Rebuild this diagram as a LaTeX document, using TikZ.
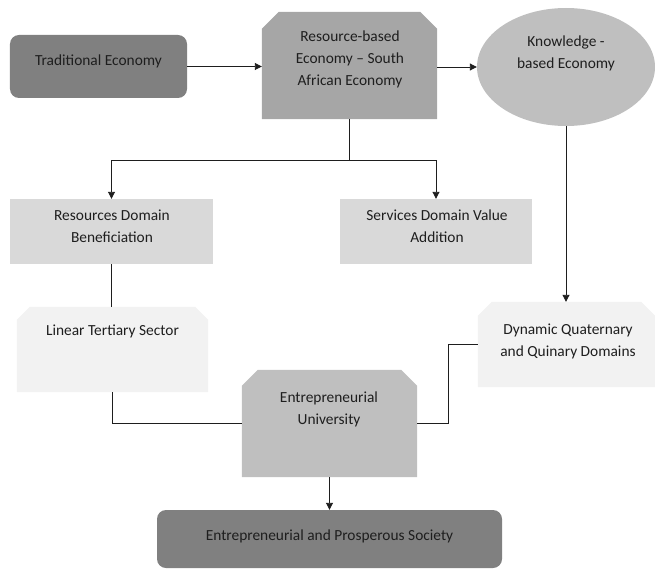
\documentclass[tikz,border=0pt]{standalone}
\usepackage{fontspec}
\setmainfont{Carlito}
\usetikzlibrary{arrows.meta,calc,shapes.geometric}
\definecolor{dkgray}{HTML}{808080}
\definecolor{mdgray}{HTML}{A6A6A6}
\definecolor{ltgray}{HTML}{BFBFBF}
\definecolor{pale}{HTML}{D9D9D9}
\definecolor{vpale}{HTML}{F2F2F2}
\definecolor{ink}{HTML}{1E1E1E}
\tikzset{
  box/.style={rectangle, inner sep=0pt, draw=none},
  txt/.style={align=center, inner sep=0pt, text=ink, font=\fontsize{15.4bp}{22bp}\selectfont},
  conn/.style={draw=ink, line width=0.9bp},
  arr/.style={conn, -{Triangle[length=7bp,width=7bp]}}
}
\newcommand{\snipfill}[3]{% node, color, chamfer
  \fill[#2] (#1.south west) -- ($(#1.north west)+(0,#3)$) -- ($(#1.north west)+(#3,0)$)
    -- ($(#1.north east)+(-#3,0)$) -- ($(#1.north east)+(0,#3)$) -- (#1.south east) -- cycle;}
\begin{document}
\begin{tikzpicture}[x=1bp,y=-1bp]
\useasboundingbox (0,0) rectangle (655,569);
% nodes
\node[box, rounded corners=9bp, fill=dkgray, minimum width=177bp, minimum height=63bp] (trad) at (98.5,66.5) {};
\node[box, minimum width=175bp, minimum height=107bp] (res) at (349.5,65.5) {};
\snipfill{res}{mdgray}{17}
\node[ellipse, draw=none, fill=ltgray, inner sep=0pt, minimum width=178bp, minimum height=118bp] (know) at (566,67) {};
\node[box, fill=pale, minimum width=203bp, minimum height=65bp] (resdom) at (111.5,231.5) {};
\node[box, fill=pale, minimum width=192bp, minimum height=65bp] (serv) at (436,231.5) {};
\node[box, minimum width=191bp, minimum height=85bp] (lin) at (112.5,349.5) {};
\snipfill{lin}{vpale}{13}
\node[box, minimum width=177bp, minimum height=85bp] (dyn) at (566.5,344.5) {};
\snipfill{dyn}{vpale}{14}
\node[box, minimum width=175bp, minimum height=107bp] (eu) at (329.5,423.5) {};
\snipfill{eu}{ltgray}{16}
\node[box, rounded corners=9bp, fill=dkgray, minimum width=345bp, minimum height=58bp] (soc) at (329.5,539) {};
% texts
\node[txt] (tradt) at (98.5,61) {Traditional Economy};
\node[txt] (rest) at (350,59) {Resource-based\\Economy -- South\\African Economy};
\node[txt] (knowt) at (566,53) {Knowledge -\\based Economy};
\node[txt] (resdomt) at (112,226) {Resources Domain\\Beneficiation};
\node[txt] (servt) at (437,226) {Services Domain Value\\Addition};
\node[txt] (lint) at (112.5,331) {Linear Tertiary Sector};
\node[txt] (dynt) at (568,341) {Dynamic Quaternary\\and Quinary Domains};
\node[txt] (eut) at (329,409) {Entrepreneurial\\University};
\node[txt] (soct) at (329.5,536) {Entrepreneurial and Prosperous Society};
% connectors
\draw[arr] (trad.east) -- (res.west |- trad.east);
\draw[arr] (res.east |- know.west) -- (know.west);
\draw[conn] (res.south) -- ++(0,41) coordinate (split);
\draw[arr] (split) -| (resdom.north);
\draw[arr] (split) -| (serv.north);
\draw[conn] (resdom.south) -- (resdom.south |- lin.north);
\draw[arr] (know.south) -- (know.south |- dyn.north);
\draw[conn] (lin.south) |- (eu.west);
\draw[conn] (eu.east) -- ++(31,0) coordinate (bend) |- (dyn.west);
\draw[arr] (eu.south) -- (soc.north);
\end{tikzpicture}
\end{document}
